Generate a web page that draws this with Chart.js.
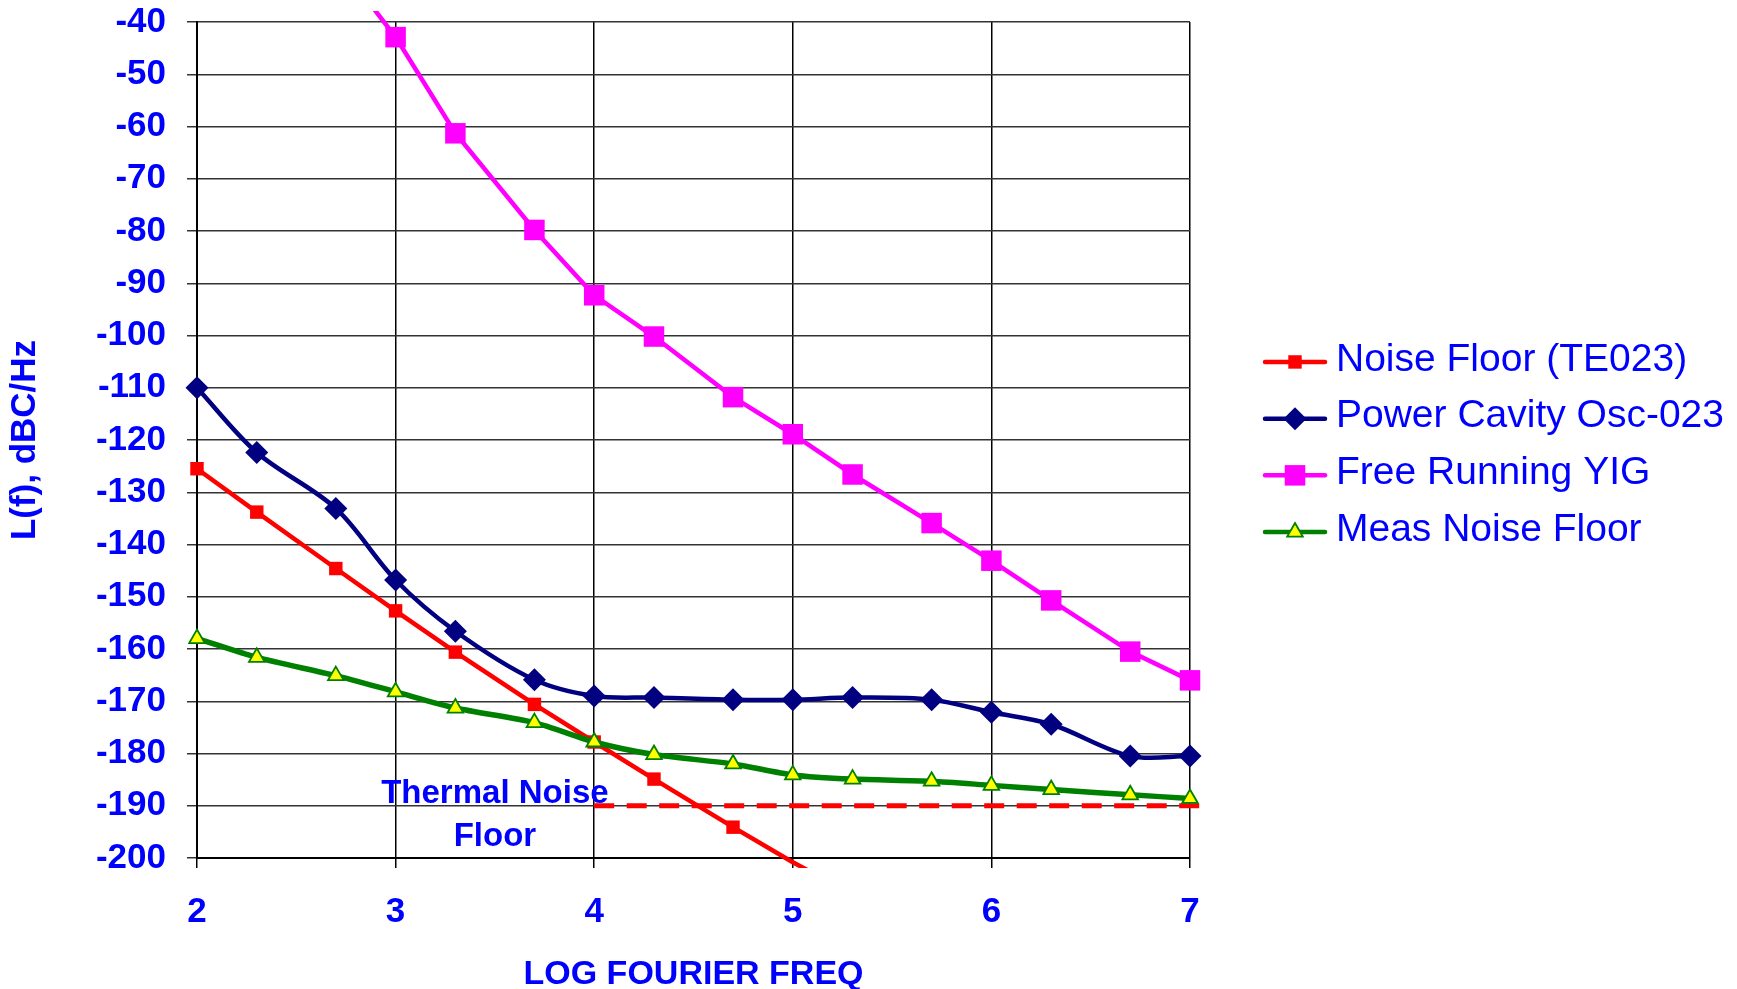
<!DOCTYPE html>
<html>
<head>
<meta charset="utf-8">
<title>Phase noise</title>
<script src="https://cdn.jsdelivr.net/npm/chart.js@4.4.1/dist/chart.umd.min.js"></script>
<style>
  html, body { margin: 0; padding: 0; background: #fff; }
  #chart { display: block; }
</style>
</head>
<body>
<canvas id="chart" width="1737" height="989"></canvas>
<script>
'use strict';

/***** DATA *****/
// log10 of the fourier frequency (100 Hz .. 10 MHz)
var logFreq = [2, 2.301, 2.699, 3, 3.301, 3.699, 4, 4.301, 4.699, 5, 5.301, 5.699, 6, 6.301, 6.699, 7];

var noiseFloorTE023 = [-125.5, -133.8, -144.6, -152.7, -160.6, -170.6, -177.8, -184.9, -194.1, -200.8, -207, null, null, null, null, null];
var powerCavityOsc = [-110.0, -122.4, -133.1, -146.8, -156.6, -165.9, -169.0, -169.3, -169.7, -169.7, -169.3, -169.7, -172.1, -174.4, -180.5, -180.5];
var freeRunningYIG = [null, null, -28, -42.9, -61.3, -79.8, -92.3, -100.2, -111.8, -118.9, -126.6, -135.9, -143.1, -150.7, -160.5, -166.0];
var measNoiseFloor = [-158.0, -161.6, -165.1, -168.2, -171.3, -174.1, -177.8, -180.2, -182.0, -184.1, -184.9, -185.3, -186.1, -186.9, -187.9, -188.6];

// thermal noise floor (dashed)
var thermalX = [4, 7.06];
var thermalY = [-190, -190];

var xTicks = [2, 3, 4, 5, 6, 7];
var yMin = -200, yMax = -40, yStep = 10;

var thermalLabel = ['Thermal Noise', 'Floor'];
var thermalLabelX = 3.5;
var thermalLabelY = [-189.5, -197.7];

var BLUE = '#0000FF';
var FONT = '"Liberation Sans", Arial, Helvetica, sans-serif';

/***** HELPERS *****/
function toPoints (xs, ys) {
   var pts = [];
   for (var i = 0; i < xs.length; i++) {
      pts.push({ x: xs[i], y: ys[i] });
   }
   return pts;
}

// hide markers that fall outside the value axis
function radiusInside (r) {
   return function (ctx) {
      var v = ctx.raw ? ctx.raw.y : null;
      if (v === null || v < yMin || v > yMax) return 0;
      return r;
   };
}

function drawMarker (ctx, style, r, x, y, fill, stroke, bw) {
   ctx.beginPath();
   if (style === 'rect') {
      var s = r * Math.SQRT1_2;
      ctx.rect(x - s, y - s, 2 * s, 2 * s);
   } else if (style === 'rectRot') {
      ctx.moveTo(x, y - r);
      ctx.lineTo(x + r, y);
      ctx.lineTo(x, y + r);
      ctx.lineTo(x - r, y);
      ctx.closePath();
   } else if (style === 'triangle') {
      ctx.moveTo(x, y - r);
      ctx.lineTo(x + Math.sin(2 * Math.PI / 3) * r, y + 0.5 * r);
      ctx.lineTo(x - Math.sin(2 * Math.PI / 3) * r, y + 0.5 * r);
      ctx.closePath();
   }
   ctx.fillStyle = fill;
   ctx.fill();
   if (bw) {
      ctx.lineWidth = bw;
      ctx.strokeStyle = stroke;
      ctx.stroke();
   }
}

var clipArea = { left: 16, top: 11, right: 16, bottom: 10 };

var series = [
   { label: 'Noise Floor (TE023)', data: noiseFloorTE023, color: '#FF0000', fill: '#FF0000', style: 'rect', radius: 9.5, width: 4.5, border: 0, tension: 0, order: 3 },
   { label: 'Power Cavity Osc-023', data: powerCavityOsc, color: '#000080', fill: '#000080', style: 'rectRot', radius: 11.5, width: 4.5, border: 0, tension: 0.33, order: 2 },
   { label: 'Free Running YIG', data: freeRunningYIG, color: '#FF00FF', fill: '#FF00FF', style: 'rect', radius: 14.5, width: 4.5, border: 0, tension: 0, order: 1 },
   { label: 'Meas Noise Floor', data: measNoiseFloor, color: '#008000', fill: '#FFFF00', style: 'triangle', radius: 9, width: 5.5, border: 1.8, tension: 0.25, order: 0 }
];

var datasets = series.map(function (s) {
   return {
      label: s.label,
      data: toPoints(logFreq, s.data),
      borderColor: s.color,
      borderWidth: s.width,
      backgroundColor: s.fill,
      pointStyle: s.style,
      pointRadius: radiusInside(s.radius),
      pointBackgroundColor: s.fill,
      pointBorderColor: s.color,
      pointBorderWidth: s.border,
      tension: s.tension,
      spanGaps: false,
      clip: clipArea,
      order: s.order
   };
});

datasets.push({
   label: 'Thermal Noise Floor',
   data: toPoints(thermalX, thermalY),
   borderColor: '#FF0000',
   borderWidth: 5,
   borderDash: [20, 12.5],
   pointRadius: 0,
   clip: clipArea,
   order: 5
});

/***** PLUGINS *****/
var sideLegend = {
   id: 'sideLegend',
   afterDraw: function (chart) {
      var ctx = chart.ctx;
      var area = chart.chartArea;
      var rowGap = 56.7;
      var y0 = (area.top + area.bottom) / 2 + 7 - 1.5 * rowGap;
      var x0 = area.right + 75;
      ctx.save();
      ctx.font = '39px ' + FONT;
      ctx.textBaseline = 'middle';
      ctx.textAlign = 'left';
      series.forEach(function (s, i) {
         var y = y0 + i * rowGap;
         ctx.beginPath();
         ctx.moveTo(x0, y);
         ctx.lineTo(x0 + 60, y);
         ctx.lineWidth = 4.5;
         ctx.lineCap = 'round';
         ctx.strokeStyle = s.color;
         ctx.stroke();
         drawMarker(ctx, s.style, s.radius, x0 + 30, y, s.fill, s.color, s.border);
         ctx.fillStyle = BLUE;
         ctx.fillText(s.label, x0 + 71, y - 2);
      });
      ctx.restore();
   }
};

var thermalText = {
   id: 'thermalText',
   afterDatasetsDraw: function (chart) {
      var ctx = chart.ctx;
      var xs = chart.scales.x, ys = chart.scales.y;
      ctx.save();
      ctx.font = 'bold 33px ' + FONT;
      ctx.fillStyle = BLUE;
      ctx.textAlign = 'center';
      ctx.textBaseline = 'alphabetic';
      thermalLabel.forEach(function (t, i) {
         ctx.fillText(t, xs.getPixelForValue(thermalLabelX), ys.getPixelForValue(thermalLabelY[i]));
      });
      ctx.restore();
   }
};

/***** CHART *****/
new Chart(document.getElementById('chart'), {
   type: 'line',
   data: { datasets: datasets },
   options: {
      responsive: false,
      devicePixelRatio: 1,
      animation: false,
      events: [],
      layout: { padding: { left: 0, top: 22, right: 547, bottom: 0 } },
      plugins: {
         legend: { display: false },
         tooltip: { enabled: false }
      },
      scales: {
         x: {
            type: 'linear',
            min: 2,
            max: 7,
            afterFit: function (scale) {
               scale.height = 131;
               scale.paddingLeft = 0;
               scale.paddingRight = 0;
            },
            afterBuildTicks: function (scale) {
               scale.ticks = xTicks.map(function (v) { return { value: v }; });
            },
            ticks: {
               color: BLUE,
               font: { family: FONT, size: 35, weight: 'bold' },
               padding: 23,
               maxRotation: 0
            },
            grid: { color: '#000', lineWidth: 1.5, tickLength: 10 },
            border: { color: '#000', width: 2 },
            title: {
               display: true,
               text: 'LOG FOURIER FREQ',
               color: BLUE,
               font: { family: FONT, size: 34, weight: 'bold', lineHeight: 0.85 },
               padding: { top: 0, bottom: 0 }
            }
         },
         y: {
            min: yMin,
            max: yMax,
            afterFit: function (scale) {
               scale.width = 197;
               scale.paddingTop = 0;
               scale.paddingBottom = 0;
            },
            ticks: {
               stepSize: yStep,
               color: BLUE,
               font: { family: FONT, size: 35, weight: 'bold' },
               padding: 21
            },
            grid: { color: '#333', lineWidth: 1.5, tickLength: 10 },
            border: { color: '#000', width: 2 },
            title: {
               display: true,
               text: 'L(f), dBC/Hz',
               color: BLUE,
               font: { family: FONT, size: 35, weight: 'bold', lineHeight: 1 },
               padding: { top: 8, bottom: 0 }
            }
         }
      }
   },
   plugins: [sideLegend, thermalText]
});
</script>
</body>
</html>
